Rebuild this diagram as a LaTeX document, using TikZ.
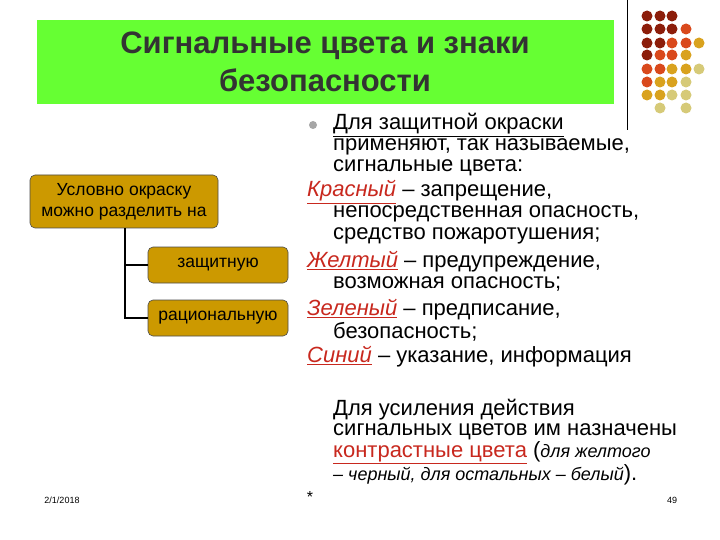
\documentclass[tikz,border=0pt]{standalone}
\usepackage{fontspec}
\setmainfont{Liberation Sans}
\begin{document}
\begin{tikzpicture}[x=1pt,y=-1pt,
 box/.style={draw=black!70,fill=gold,rounded corners=5pt,line width=0.6pt,align=center,font=\fontsize{17.5}{21}\selectfont},
 tx/.style={anchor=west,inner sep=0pt,font=\fontsize{22}{24}\selectfont},
 dot/.style={circle,inner sep=0pt,minimum size=11pt}]
\definecolor{gold}{HTML}{CC9900}
\definecolor{dk}{HTML}{8C1D0A}
\definecolor{org}{HTML}{D9491C}
\definecolor{gl}{HTML}{D9A21E}
\definecolor{pale}{HTML}{D6CA78}
\definecolor{rd}{HTML}{C8281E}
\definecolor{grn}{HTML}{66FF33}
\useasboundingbox (0,0) rectangle (720,540);
\fill[white] (0,0) rectangle (720,540);
\fill[grn] (37,20) rectangle (614,104);
\node[align=center,font=\bfseries\fontsize{31}{38}\selectfont,text=black!80] (title) at (325,62) {Сигнальные цвета и знаки\\безопасности};
\draw[line width=1pt] (627,0) -- (627,130);
% dots
\foreach \c/\x/\y in {dk/647/16,dk/660/16,dk/672/16,
 dk/647/29,dk/660/29,dk/672/29,org/686/29,
 dk/647/43,dk/660/43,org/672/43,org/686/43,gl/699/43,
 dk/647/55,org/660/55,org/672/55,gl/686/55,
 org/647/69,org/660/69,gl/672/69,gl/686/69,pale/699/69,
 org/647/82,gl/660/82,gl/672/82,pale/686/82,
 gl/647/95,gl/660/95,pale/672/95,pale/686/95,
 pale/660/108,pale/686/108}
 \node[dot,fill=\c] at (\x,\y) {};
% left tree
\node[box,minimum width=188pt,minimum height=53pt] (b1) at (124,201.5) {Условно окраску\\можно разделить на};
\node[box,minimum width=140pt,minimum height=36pt] (b2) at (218,265) {защитную};
\node[box,minimum width=140pt,minimum height=36pt] (b3) at (218,318) {рациональную};
\coordinate (j) at (125,318);
\draw[line width=1.5pt] (b1.south -| j) -- (j) -- (b3.west);
\draw[line width=1.5pt] (b2.west) -- (b2.west -| j);
% right text
\node[circle,fill=gray!70,inner sep=0pt,minimum size=8pt] (bul) at (313,125) {};
\node[tx] (t1) at (333,125) {\underline{Для защитной окраски}};
\node[tx] (t2) at (333,147) {применяют, так называемые,};
\node[tx] (t3) at (333,168) {сигнальные цвета:};
\node[tx] (t4) at (307,192) {\textcolor{rd}{\underline{\itshape Красный}} – запрещение,};
\node[tx] (t5) at (333,214) {непосредственная опасность,};
\node[tx] (t6) at (333,236) {средство пожаротушения;};
\node[tx] (t7) at (307,262) {\textcolor{rd}{\underline{\itshape Желтый}} – предупреждение,};
\node[tx] (t8) at (333,284) {возможная опасность;};
\node[tx] (t9) at (307,310) {\textcolor{rd}{\underline{\itshape Зеленый}} – предписание,};
\node[tx] (t10) at (333,332) {безопасность;};
\node[tx] (t11) at (307,357) {\textcolor{rd}{\underline{\itshape Синий}} – указание, информация};
\node[tx] (t12) at (333,410) {Для усиления действия};
\node[tx] (t13) at (333,432) {сигнальных цветов им назначены};
\node[tx] (t14) at (333,453) {\textcolor{rd}{\underline{контрастные цвета}} ({\itshape\fontsize{18}{20}\selectfont для желтого}};
\node[tx] (t15) at (333,475) {{\itshape\fontsize{18}{20}\selectfont – черный, для остальных – белый}).};
\node[font=\fontsize{9}{10}\selectfont] (date) at (62,500) {2/1/2018};
\node[font=\fontsize{16}{18}\selectfont] (star) at (310,497) {*};
\node[font=\fontsize{9}{10}\selectfont] (num) at (672,500) {49};
\end{tikzpicture}
\end{document}
